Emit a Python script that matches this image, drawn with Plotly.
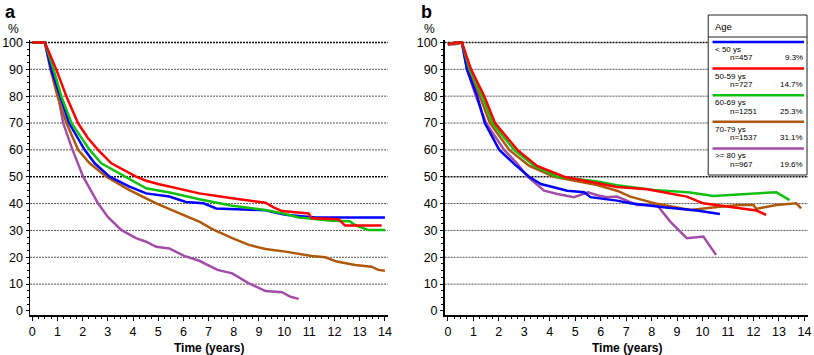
import plotly.graph_objects as go

# ---------------- data ----------------
years_ticks = list(range(0, 15))
pct_ticks = list(range(0, 101, 10))

groups = ["< 50 ys", "50-59 ys", "60-69 ys", "70-79 ys", ">= 80 ys"]
group_n = ["n=457", "n=727", "n=1251", "n=1537", "n=967"]
group_pct = ["9.3%", "14.7%", "25.3%", "31.1%", "19.6%"]
colors = ["#0000ff", "#ff0000", "#11c011", "#b0580a", "#a24da8"]

# Panel a
a_blue_t = [0, 0.5, 0.75, 1.09, 1.46, 2.08, 2.48, 3.07, 3.6, 3.86, 4.52, 5.44, 6.1, 6.8, 7.3, 9.26, 9.6, 10.05, 11.24, 14.0]
a_blue_v = [100, 100, 90, 80, 70, 60, 55, 50, 47.5, 46.3, 43.8, 42.6, 40.6, 40.1, 38.2, 37.5, 36.8, 35.8, 34.8, 34.8]
a_red_t = [0, 0.5, 0.96, 1.36, 1.82, 2.2, 2.61, 3.14, 4.12, 4.52, 5.0, 5.8, 6.63, 7.94, 9.26, 9.6, 9.92, 10.97, 11.1, 12.16, 12.42, 13.87]
a_red_v = [100, 100, 89.8, 79.8, 69.9, 64.5, 60, 55, 50, 48.5, 47.3, 45.5, 43.8, 42.0, 40.3, 38.5, 37.2, 36.3, 34.5, 34.2, 31.8, 31.8]
a_green_t = [0, 0.5, 0.85, 1.16, 1.56, 2.28, 2.74, 3.73, 4.52, 5.5, 6.63, 7.94, 9.26, 9.92, 10.58, 11.89, 12.6, 12.82, 13.34, 14.0]
a_green_v = [100, 100, 89.8, 79.8, 69.9, 60, 55, 50, 45.7, 44.0, 41.6, 39.2, 37.6, 36.4, 34.8, 33.6, 33.4, 32.0, 30.2, 30.2]
a_brown_t = [0, 0.5, 0.73, 1.0, 1.36, 1.82, 2.28, 2.94, 3.86, 4.92, 5.8, 6.63, 7.15, 7.94, 8.6, 9.26, 10.05, 10.58, 11.1, 11.63, 12.09, 12.82, 13.47, 13.74, 14.0]
a_brown_v = [100, 100, 89.8, 80, 69.9, 60, 55, 50, 45, 40.1, 36.5, 33.3, 30.5, 27.1, 24.6, 23.1, 22.1, 21.2, 20.5, 20.0, 18.4, 17.1, 16.5, 15.3, 15.0]
a_purple_t = [0, 0.5, 0.83, 1.03, 1.23, 1.6, 2.02, 2.61, 3.0, 3.53, 4.12, 4.52, 4.92, 5.44, 6.03, 6.63, 7.35, 7.94, 8.6, 9.26, 9.92, 10.25, 10.58]
a_purple_v = [100, 100, 89.8, 79.8, 69.9, 60, 50, 40.1, 35, 30.2, 27.1, 25.8, 23.9, 23.3, 20.5, 18.7, 15.3, 14.0, 10.3, 7.4, 7.0, 5.3, 4.5]

# Panel b
b_blue_t = [0, 0.3, 0.55, 0.75, 1.15, 1.45, 2.02, 2.6, 3.19, 3.65, 4.69, 5.35, 5.6, 6.64, 7.16, 8.47, 9.77, 10.68]
b_blue_v = [99.3, 100, 100, 90, 80, 70, 60, 54.8, 50, 47.3, 44.8, 44.2, 42.4, 41.1, 40.1, 38.6, 37.4, 36.1]
b_red_t = [0, 0.3, 0.55, 0.91, 1.43, 1.85, 2.73, 3.5, 4.56, 5.86, 6.64, 7.82, 8.47, 9.38, 10.03, 11.07, 12.11, 12.5]
b_red_v = [99.3, 100, 100, 90, 80, 70, 60, 54, 50, 47.5, 46.2, 45.3, 44.1, 42.6, 40.1, 38.8, 37.4, 35.8]
b_green_t = [0, 0.3, 0.55, 0.85, 1.35, 1.75, 2.6, 3.4, 4.3, 5.86, 6.64, 8.08, 9.51, 10.42, 11.72, 12.9, 13.42]
b_green_v = [99.3, 100, 100, 90, 80, 70, 60, 54, 50, 48.2, 46.8, 45.1, 44.1, 42.8, 43.6, 44.2, 41.3]
b_brown_t = [0, 0.3, 0.55, 0.8, 1.25, 1.65, 2.41, 3.2, 4.17, 5.35, 5.86, 6.64, 7.16, 8.21, 9.51, 10.68, 11.46, 12.0, 12.1, 12.9, 13.68, 13.87]
b_brown_v = [99.3, 99.5, 100, 90, 80, 70, 60, 54, 50, 47.9, 46.9, 44.8, 42.6, 39.9, 37.6, 38.8, 39.5, 39.5, 38.0, 39.5, 40.1, 38.2]
b_purple_t = [0, 0.3, 0.55, 0.75, 1.1, 1.5, 2.21, 2.73, 3.13, 3.78, 4.3, 4.95, 5.5, 5.9, 6.25, 6.64, 7.42, 8.21, 8.73, 9.38, 10.03, 10.29, 10.53]
b_purple_v = [99.3, 99.3, 100, 90, 80, 70, 60, 54.8, 50, 44.8, 43.6, 42.4, 44.2, 43.0, 42.4, 42.6, 39.5, 39.5, 33.3, 27.1, 27.7, 23.9, 20.9]

panel_a = [(a_blue_t, a_blue_v), (a_red_t, a_red_v), (a_green_t, a_green_v), (a_brown_t, a_brown_v), (a_purple_t, a_purple_v)]
panel_b = [(b_blue_t, b_blue_v), (b_red_t, b_red_v), (b_green_t, b_green_v), (b_brown_t, b_brown_v), (b_purple_t, b_purple_v)]

# ---------------- layout geometry ----------------
W_FIG, H_FIG = 814, 355
L, R, T, B = 30, 812, 40, 315
PW, PH = R - L, B - T


def px(x):
    return (x - L) / PW


def py(y):
    return (B - y) / PH


FONT = "Liberation Sans, Arial, Helvetica, sans-serif"

fig = go.Figure()
order = [4, 3, 0, 2, 1]
for i in order:
    t, v = panel_a[i]
    fig.add_trace(go.Scatter(x=t, y=v, mode="lines", xaxis="x", yaxis="y",
                             line=dict(color=colors[i], width=2.5), showlegend=False,
                             hoverinfo="skip"))
for i in order:
    t, v = panel_b[i]
    fig.add_trace(go.Scatter(x=t, y=v, mode="lines", xaxis="x2", yaxis="y2",
                             line=dict(color=colors[i], width=2.5), showlegend=False,
                             hoverinfo="skip"))

shapes = []
for xr, yr in (("x domain", "y"), ("x2 domain", "y2")):
    for v in pct_ticks[1:]:
        bold = v in (50, 100)
        shapes.append(dict(type="line", xref=xr, yref=yr, x0=0, x1=1, y0=v, y1=v,
                           layer="below",
                           line=dict(color="#111111" if bold else "#555555",
                                     width=1.5 if bold else 1, dash="2px,1px")))

# custom legend box
LX0, LX1, LY0, LY1 = 711.7, 811, 15, 175
shapes.append(dict(type="rect", xref="paper", yref="paper", x0=px(LX0), x1=px(LX1),
                   y0=py(LY1), y1=py(LY0), fillcolor="white",
                   line=dict(color="#222222", width=1), layer="above"))
shapes.append(dict(type="line", xref="paper", yref="paper", x0=px(LX0), x1=px(LX1),
                   y0=py(37), y1=py(37), line=dict(color="#222222", width=1), layer="above"))
annotations = [dict(text="Age", xref="paper", yref="paper", x=px(716.5), y=py(26.5),
                    xanchor="left", yanchor="middle", showarrow=False,
                    font=dict(family=FONT, size=9.5, color="black"))]
for i in range(5):
    yl = 42 + 26.6 * i
    shapes.append(dict(type="line", xref="paper", yref="paper", x0=px(716), x1=px(808),
                       y0=py(yl), y1=py(yl), line=dict(color=colors[i], width=2.5), layer="above"))
    annotations.append(dict(text=groups[i], xref="paper", yref="paper", x=px(716.5), y=py(yl + 7.5),
                            xanchor="left", yanchor="middle", showarrow=False,
                            font=dict(family=FONT, size=8, color="black")))
    annotations.append(dict(text=group_n[i], xref="paper", yref="paper", x=px(731.5), y=py(yl + 16),
                            xanchor="left", yanchor="middle", showarrow=False,
                            font=dict(family=FONT, size=8, color="black")))
    annotations.append(dict(text=group_pct[i], xref="paper", yref="paper", x=px(808.5), y=py(yl + 16),
                            xanchor="right", yanchor="middle", showarrow=False,
                            font=dict(family=FONT, size=8, color="black")))

# panel letters, % labels, x titles
annotations += [
    dict(text="<b>a</b>", xref="paper", yref="paper", x=px(10), y=py(12), xanchor="center",
         yanchor="middle", showarrow=False, font=dict(family=FONT, size=18, color="black")),
    dict(text="<b>b</b>", xref="paper", yref="paper", x=px(428.5), y=py(11.5), xanchor="center",
         yanchor="middle", showarrow=False, font=dict(family=FONT, size=18, color="black")),
    dict(text="%", xref="paper", yref="paper", x=px(13), y=py(29), xanchor="center",
         yanchor="middle", showarrow=False, font=dict(family=FONT, size=12, color="black")),
    dict(text="%", xref="paper", yref="paper", x=px(431.5), y=py(29), xanchor="center",
         yanchor="middle", showarrow=False, font=dict(family=FONT, size=12, color="black")),
    dict(text="<b>Time (years)</b>", xref="paper", yref="paper", x=px(210), y=py(348),
         xanchor="center", yanchor="middle", showarrow=False,
         font=dict(family=FONT, size=12, color="black")),
    dict(text="<b>Time (years)</b>", xref="paper", yref="paper", x=px(630.5), y=py(348),
         xanchor="center", yanchor="middle", showarrow=False,
         font=dict(family=FONT, size=12, color="black")),
]

xcommon = dict(tickvals=years_ticks, ticktext=[str(v) for v in years_ticks],
               ticks="outside", ticklen=4, tickwidth=1, tickcolor="black",
               showline=True, linecolor="black", linewidth=1.5,
               showgrid=False, zeroline=False,
               minor=dict(dtick=0.25, tick0=0, ticks="outside", ticklen=2.5, tickcolor="black",
                          showgrid=False),
               tickfont=dict(family=FONT, size=12.5, color="black"))
ycommon = dict(tickvals=pct_ticks, ticktext=[str(v) for v in pct_ticks],
               ticks="outside", ticklen=3, tickwidth=1, tickcolor="black",
               showline=True, linecolor="black", linewidth=1.5,
               showgrid=False, zeroline=False, range=[-1.5, -1.5 + PH / 2.685],
               minor=dict(dtick=2.5, tick0=0, ticks="outside", ticklen=2, tickcolor="black",
                          showgrid=False),
               tickfont=dict(family=FONT, size=12.5, color="black"))

fig.update_layout(
    width=W_FIG, height=H_FIG,
    margin=dict(l=L, r=W_FIG - R, t=T, b=H_FIG - B),
    paper_bgcolor="white", plot_bgcolor="white",
    showlegend=False,
    xaxis=dict(domain=[0, (389.5 - L) / PW], range=[-0.09, 14.11], anchor="y", **xcommon),
    xaxis2=dict(domain=[(446.7 - L) / PW, 1], range=[-0.13, 14.14], anchor="y2", **xcommon),
    yaxis=dict(domain=[0, 1], anchor="x", **ycommon),
    yaxis2=dict(domain=[0, 1], anchor="x2", **ycommon),
    shapes=shapes,
    annotations=annotations,
)

fig.write_html("out.html", config={"displayModeBar": False, "staticPlot": True},
               post_script="document.body.style.margin='0px';document.body.style.overflow='hidden';")
